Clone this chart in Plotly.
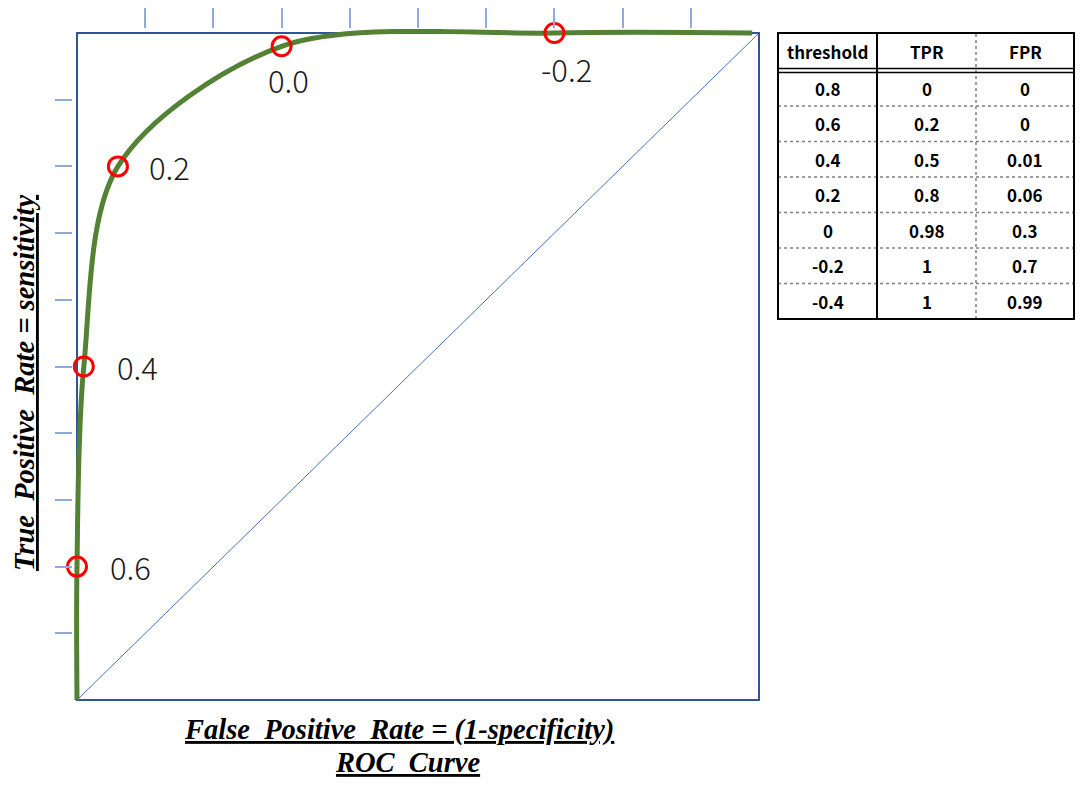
import plotly.graph_objects as go

# ---- data ----
thresholds = [0.8, 0.6, 0.4, 0.2, 0, -0.2, -0.4]
tpr = [0, 0.2, 0.5, 0.8, 0.98, 1, 1]
fpr = [0, 0, 0.01, 0.06, 0.3, 0.7, 0.99]
marked_thresholds = [0.6, 0.4, 0.2, 0, -0.2]
diag_x = [0, 1]
diag_y = [0, 1]
tick_vals = [0.1, 0.2, 0.3, 0.4, 0.5, 0.6, 0.7, 0.8, 0.9]
table_headers = ["threshold", "TPR", "FPR"]

# page body has an 8px default margin -> lay out in screen pixels minus 8
# (figure kept small enough that the page does not overflow the window)
OFF = 8
W, H = 1084 - 2 * OFF, 787 - 2 * OFF


def px(v):
    return (v - OFF) / W


def py(v):
    return 1 - (v - OFF) / H


# plot box (data 0..1) in screen pixels, plus a small padding so lines on the edge are not clipped
BX0, BX1, BY0, BY1 = 77, 759, 33, 700
PAD = 4
sx = BX1 - BX0
sy = BY1 - BY0

fig = go.Figure()

# plot box border (below traces so the curve covers it)
fig.add_shape(type="rect", xref="x", yref="y", x0=0, x1=1, y0=0, y1=1,
              layer="below", line=dict(color="#2f5597", width=2))

# diagonal reference line
fig.add_trace(go.Scatter(x=diag_x, y=diag_y, mode="lines",
                         line=dict(color="#4472c4", width=1),
                         hoverinfo="skip", showlegend=False))

# ROC curve
fig.add_trace(go.Scatter(x=fpr, y=tpr, mode="lines",
                         line=dict(color="#548235", width=5, shape="spline", smoothing=0.9),
                         showlegend=False))

# marked thresholds
mx = [fpr[thresholds.index(t)] for t in marked_thresholds]
my = [tpr[thresholds.index(t)] for t in marked_thresholds]
fig.add_trace(go.Scatter(x=mx, y=my, mode="markers", cliponaxis=False,
                         marker=dict(symbol="circle-open", size=19, color="#ff0000",
                                     line=dict(width=3, color="#ff0000")),
                         showlegend=False))

# threshold labels
label_style = {0.6: ("left", 31, 0), 0.4: ("left", 31, 0),
               0.2: ("left", 29, 0), 0: ("center", 7, -33),
               -0.2: ("center", 12, -35)}
for t, x, y in zip(marked_thresholds, mx, my):
    xa, xs, ys = label_style[t]
    fig.add_annotation(x=x, y=y, xref="x", yref="y", text=f"{t:.1f}",
                       showarrow=False, xanchor=xa, yanchor="middle", xshift=xs, yshift=ys,
                       font=dict(family="Noto Sans CJK JP", size=31, color="#1a1a1a", weight=300))

# ---- table (drawn with shapes + annotations built from the data lists) ----
col_edges = [778, 877, 976, 1074]
TY0, HEAD_B, TY1 = 33, 70.5, 319
n_rows = len(thresholds)
row_h = (TY1 - HEAD_B) / n_rows
table_font = dict(family="Noto Sans CJK JP", size=17, color="black")
columns = [thresholds, tpr, fpr]

for j, h in enumerate(table_headers):
    cx = (col_edges[j] + col_edges[j + 1]) / 2
    fig.add_annotation(x=px(cx), y=py((TY0 + HEAD_B) / 2), xref="paper", yref="paper",
                       text=f"<b>{h}</b>", showarrow=False, font=table_font,
                       xanchor="center", yanchor="middle")
    for i, v in enumerate(columns[j]):
        cy = HEAD_B + row_h * (i + 0.5)
        fig.add_annotation(x=px(cx), y=py(cy), xref="paper", yref="paper",
                           text=f"<b>{v}</b>", showarrow=False, font=table_font,
                           xanchor="center", yanchor="middle")

dot_line = dict(color="#808080", width=1.5, dash="dot")
for i in range(1, n_rows):
    yy = HEAD_B + row_h * i
    fig.add_shape(type="line", xref="paper", yref="paper", x0=px(col_edges[0]), x1=px(col_edges[-1]),
                  y0=py(yy), y1=py(yy), line=dot_line)
fig.add_shape(type="line", xref="paper", yref="paper", x0=px(col_edges[2]), x1=px(col_edges[2]),
              y0=py(TY1), y1=py(TY0), line=dot_line)
fig.add_shape(type="line", xref="paper", yref="paper", x0=px(col_edges[1]), x1=px(col_edges[1]),
              y0=py(TY1), y1=py(TY0), line=dict(color="black", width=2))
for yy in (HEAD_B - 2, HEAD_B + 2):
    fig.add_shape(type="line", xref="paper", yref="paper", x0=px(col_edges[0]), x1=px(col_edges[-1]),
                  y0=py(yy), y1=py(yy), line=dict(color="black", width=1.5))
fig.add_shape(type="rect", xref="paper", yref="paper", x0=px(col_edges[0]), x1=px(col_edges[-1]),
              y0=py(TY1), y1=py(TY0), line=dict(color="black", width=2))

axis_common = dict(showgrid=False, zeroline=False, showticklabels=False, showline=False,
                   ticks="outside", tickwidth=1.5, tickcolor="#8faadc",
                   tickmode="array", tickvals=tick_vals, fixedrange=True)

fig.update_layout(
    width=W, height=H,
    margin=dict(l=0, r=0, t=0, b=0),
    paper_bgcolor="white", plot_bgcolor="white",
    xaxis=dict(domain=[px(BX0 - PAD), px(BX1 + PAD)], side="top",
               range=[-PAD / sx, 1 + PAD / sx], ticklen=20, **axis_common),
    yaxis=dict(domain=[py(BY1 + PAD), py(BY0 - PAD)],
               range=[-PAD / sy, 1 + PAD / sy], ticklen=17, **axis_common),
    showlegend=False,
)

title_font = dict(family="Liberation Serif", size=28.5, color="black")
fig.add_annotation(x=px(399), y=py(730), xref="paper", yref="paper", showarrow=False,
                   text="<b><i><u>False  Positive  Rate = (1-specificity)</u></i></b>",
                   font=title_font, xanchor="center", yanchor="middle")
fig.add_annotation(x=px(407), y=py(762), xref="paper", yref="paper", showarrow=False,
                   text="<b><i><u>ROC  Curve</u></i></b>",
                   font=title_font, xanchor="center", yanchor="middle")
fig.add_annotation(x=px(24), y=py(383), xref="paper", yref="paper", showarrow=False,
                   text="<b><i><u>True  Positive  Rate = sensitivity</u></i></b>",
                   textangle=-90, font=title_font, xanchor="center", yanchor="middle")

fig.write_html("out.html")
